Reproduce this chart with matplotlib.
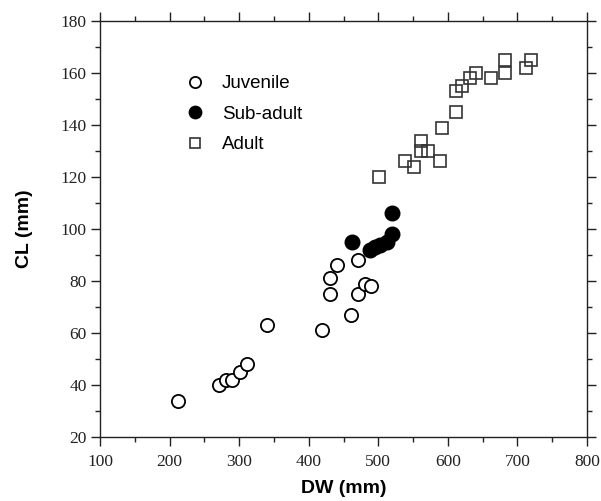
import matplotlib
matplotlib.use("Agg")
import matplotlib.pyplot as plt
from matplotlib.ticker import MultipleLocator

# Datos (DW y CL en mm)
juv_dw = [212, 271, 281, 290, 301, 312, 340, 419, 431, 431, 440, 461, 471, 471, 481, 489]
juv_cl = [34, 40, 42, 42, 45, 48, 63, 61, 81, 75, 86, 67, 88, 75, 79, 78]

sub_dw = [462, 488, 495, 502, 512, 520, 519]
sub_cl = [95, 92, 93, 94, 95, 98, 106]

adu_dw = [501, 539, 551, 562, 562, 572, 589, 591, 612, 612, 620, 632, 640, 662, 682, 682, 712, 720]
adu_cl = [120, 126, 124, 130, 134, 130, 126, 139, 145, 153, 155, 158, 160, 158, 165, 160, 162, 165]

fig = plt.figure(figsize=(6.01, 5.01), dpi=100)
ax = fig.add_axes([100 / 601, 64 / 501, 487 / 601, 416 / 501])

ax.plot(juv_dw, juv_cl, 'o', ms=9.5, mfc='white', mec='black', mew=1.3,
        linestyle='none', label='Juvenile')
ax.plot(sub_dw, sub_cl, 'o', ms=10.5, mfc='black', mec='black', mew=1.0,
        linestyle='none', label='Sub-adult')
ax.plot(adu_dw, adu_cl, 's', ms=9.0, mfc='none', mec='#333333', mew=1.2,
        linestyle='none', label='Adult')

ax.set_xlim(100, 800)
ax.set_ylim(20, 180)
ax.xaxis.set_major_locator(MultipleLocator(100))
ax.xaxis.set_minor_locator(MultipleLocator(50))
ax.yaxis.set_major_locator(MultipleLocator(20))
ax.yaxis.set_minor_locator(MultipleLocator(10))

ax.tick_params(which='both', direction='out', top=True, right=True,
               color='#222222', width=1.0)
ax.tick_params(which='major', length=6.5)
ax.tick_params(which='minor', length=3.5)
for lab in ax.get_xticklabels() + ax.get_yticklabels():
    lab.set_family('Liberation Serif')
    lab.set_fontsize(12.5)
    lab.set_color('#222222')
ax.tick_params(axis='x', pad=6)
ax.tick_params(axis='y', pad=3)

for sp in ax.spines.values():
    sp.set_linewidth(1.0)
    sp.set_color('#222222')

ax.set_xlabel('DW (mm)', family='Liberation Sans', fontweight='bold', fontsize=14, labelpad=7)
ax.set_ylabel('CL (mm)', family='Liberation Sans', fontweight='bold', fontsize=14, labelpad=20)

ax.legend(loc='upper left', bbox_to_anchor=(0.175, 0.87), frameon=False,
          borderaxespad=0, borderpad=0, handlelength=1.0, handletextpad=0.95,
          labelspacing=0.72, numpoints=1, markerscale=0.85,
          prop={'family': 'Liberation Sans', 'size': 13.5})

fig.savefig('out.png', dpi=100)
